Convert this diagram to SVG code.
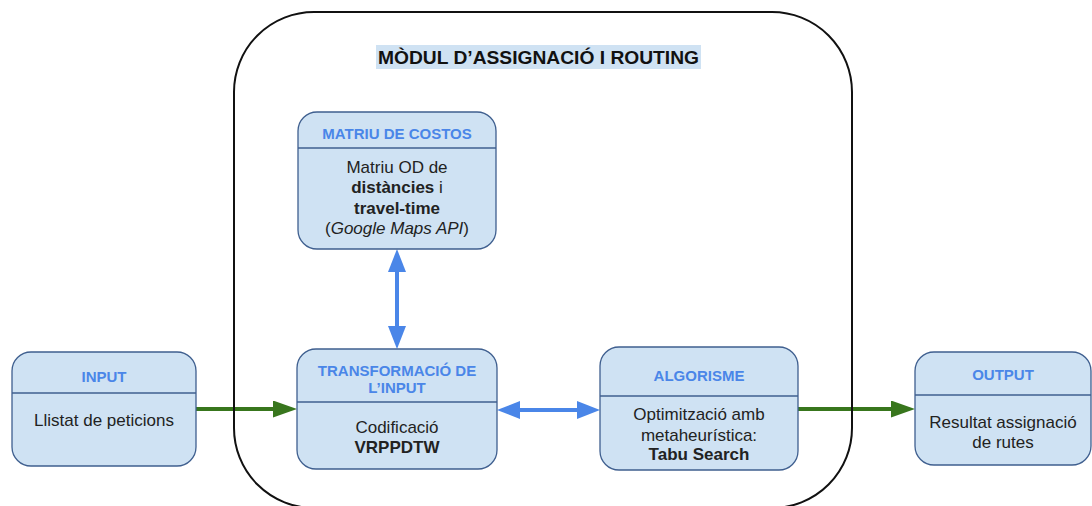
<svg xmlns="http://www.w3.org/2000/svg" width="1092" height="506" viewBox="0 0 1092 506">
  <style>
    .node { fill: #cfe2f3; stroke: #3f5f8f; stroke-width: 1.3; }
    .sep { stroke: #3f5f8f; stroke-width: 1.3; }
    .hdr { font-family: "Liberation Sans", Arial, sans-serif; font-size: 15px; font-weight: bold; fill: #4a86e8; text-anchor: middle; }
    .body { font-family: "Liberation Sans", Arial, sans-serif; font-size: 17px; fill: #222222; text-anchor: middle; }
    .b { font-weight: bold; }
    .i { font-style: italic; }
    .title { font-family: "Liberation Sans", Arial, sans-serif; font-size: 19px; font-weight: bold; fill: #111111; text-anchor: middle; }
    .flow { stroke: #38761d; stroke-width: 4; fill: none; }
    .link { stroke: #4a86e8; stroke-width: 4; fill: none; }
  </style>
  <defs>
    <marker id="headGreen" markerUnits="userSpaceOnUse" markerWidth="24" markerHeight="17" refX="14" refY="8.5" orient="auto">
      <path d="M0,0 L24,8.5 L0,17 z" fill="#38761d"/>
    </marker>
    <marker id="headBlue" markerUnits="userSpaceOnUse" markerWidth="23" markerHeight="18" refX="13" refY="9" orient="auto-start-reverse">
      <path d="M0,0 L23,9 L0,18 z" fill="#4a86e8"/>
    </marker>
  </defs>

  <rect x="0" y="0" width="1092" height="506" fill="#ffffff"/>

  <!-- connectors -->
  <g id="connectors">
    <line class="flow" x1="196" y1="409" x2="287" y2="409" marker-end="url(#headGreen)"/>
    <line class="flow" x1="798" y1="409" x2="905" y2="409" marker-end="url(#headGreen)"/>
    <line class="link" x1="507" y1="410" x2="590" y2="410" marker-start="url(#headBlue)" marker-end="url(#headBlue)"/>
    <line class="link" x1="397" y1="259" x2="397" y2="339" marker-start="url(#headBlue)" marker-end="url(#headBlue)"/>
  </g>

  <!-- module container -->
  <g id="module">
    <rect x="234" y="12" width="618" height="496" rx="80" ry="80" fill="none" stroke="#111111" stroke-width="2"/>
    <rect x="376" y="45" width="325" height="24" fill="#cfe2f3"/>
    <text class="title" x="538.5" y="64" textLength="321" lengthAdjust="spacingAndGlyphs">MÒDUL D’ASSIGNACIÓ I ROUTING</text>
  </g>

  <!-- cost matrix -->
  <g id="matriu">
    <rect class="node" x="298" y="112" width="198" height="137" rx="19"/>
    <line class="sep" x1="298" y1="148" x2="496" y2="148"/>
    <text class="hdr" x="397" y="139">MATRIU DE COSTOS</text>
    <text class="body" x="397" y="173">Matriu OD de</text>
    <text class="body" x="397" y="193"><tspan class="b">distàncies</tspan> i</text>
    <text class="body b" x="397" y="214">travel-time</text>
    <text class="body" x="397" y="234">(<tspan class="i">Google Maps API</tspan>)</text>
  </g>

  <!-- input -->
  <g id="input">
    <rect class="node" x="12" y="352" width="184" height="114" rx="19"/>
    <line class="sep" x1="12" y1="393" x2="196" y2="393"/>
    <text class="hdr" x="104" y="382">INPUT</text>
    <text class="body" x="104" y="426">Llistat de peticions</text>
  </g>

  <!-- input transformation -->
  <g id="transformacio">
    <rect class="node" x="297" y="349" width="200" height="120" rx="19"/>
    <line class="sep" x1="297" y1="402" x2="497" y2="402"/>
    <text class="hdr" x="397" y="376">TRANSFORMACIÓ DE</text>
    <text class="hdr" x="397" y="393">L’INPUT</text>
    <text class="body" x="397" y="433">Codificació</text>
    <text class="body b" x="397" y="453">VRPPDTW</text>
  </g>

  <!-- algorithm -->
  <g id="algorisme">
    <rect class="node" x="600" y="347" width="198" height="123" rx="19"/>
    <line class="sep" x1="600" y1="396" x2="798" y2="396"/>
    <text class="hdr" x="699" y="381">ALGORISME</text>
    <text class="body" x="699" y="420">Optimització amb</text>
    <text class="body" x="699" y="441">metaheurística:</text>
    <text class="body b" x="699" y="460">Tabu Search</text>
  </g>

  <!-- output -->
  <g id="output">
    <rect class="node" x="915" y="352" width="176" height="113" rx="19"/>
    <line class="sep" x1="915" y1="395" x2="1091" y2="395"/>
    <text class="hdr" x="1003" y="380">OUTPUT</text>
    <text class="body" x="1003" y="428">Resultat assignació</text>
    <text class="body" x="1003" y="448">de rutes</text>
  </g>
</svg>
